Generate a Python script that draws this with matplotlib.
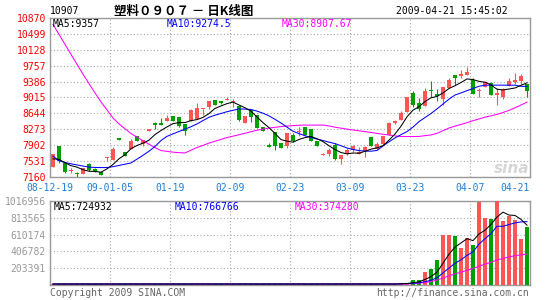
import matplotlib
matplotlib.use("Agg")
import matplotlib.pyplot as plt

# ---------------- data ----------------
x_labels = ["08-12-19", "09-01-05", "01-19", "02-09", "02-23", "03-09", "03-23", "04-07", "04-21"]
price_ticks = [7160, 7531, 7902, 8273, 8644, 9015, 9386, 9757, 10128, 10499, 10870]
vol_ticks = [203391, 406782, 610174, 813565, 1016956]

opens = [7392, 7872, 7485, 7290, 7245, 7240, 7454, 7350, 7265, 7615,
         7547, 8065, 7733, 7819, 8111, 7934, 8227, 8412, 8410, 8458,
         8590, 8567, 8397, 8475, 8513, 8746, 8783, 8960, 8938, 8955,
         8920, 8823, 8412, 8729, 8614, 8336, 7895, 8203, 7950, 7872,
         8134, 8212, 8336, 8289, 8010, 7663, 7686, 7918, 7585, 7703,
         7795, 7703, 7763, 8103, 7819, 7934, 8150, 8428, 8490, 8667,
         9117, 8876, 8823, 9194, 9108, 8978, 9247, 9541, 9526, 9534,
         9418, 9155, 9263, 9364, 9078, 9031, 9287, 9387, 9402, 9325]
closes = [7703, 7531, 7276, 7330, 7225, 7370, 7331, 7280, 7210, 7625,
          7819, 8030, 7640, 8010, 8010, 8034, 8273, 8366, 8380, 8537,
          8475, 8358, 8243, 8729, 8760, 8750, 8922, 8839, 8892, 8962,
          8938, 8490, 8590, 8567, 8296, 8227, 7856, 7872, 7833, 8196,
          7995, 8243, 8150, 8010, 7872, 7703, 7795, 7585, 7663, 7779,
          7872, 7740, 7856, 7895, 7934, 8127, 8412, 8475, 8644, 9031,
          8846, 8737, 9170, 9155, 9047, 9263, 9418, 9479, 9572, 9611,
          9108, 9186, 9372, 9078, 9131, 9210, 9402, 9418, 9518, 9170]
highs = [7703, 7872, 7500, 7380, 7270, 7380, 7480, 7360, 7270, 7625,
         7870, 8065, 7733, 8040, 8111, 8034, 8273, 8452, 8537, 8614,
         8590, 8567, 8397, 8746, 8876, 8750, 8922, 8960, 8938, 9031,
         8978, 8823, 8590, 8729, 8614, 8336, 7965, 8203, 7950, 8196,
         8196, 8336, 8336, 8289, 8010, 7720, 7830, 7950, 7663, 7830,
         7918, 7856, 7888, 8103, 7972, 8127, 8444, 8500, 8690, 9031,
         9170, 9001, 9233, 9402, 9210, 9263, 9465, 9541, 9650, 9727,
         9465, 9247, 9380, 9380, 9247, 9247, 9479, 9580, 9572, 9325]
lows = [7392, 7485, 7253, 7260, 7165, 7235, 7310, 7270, 7200, 7530,
        7547, 8030, 7640, 7819, 8010, 7872, 8227, 8282, 8366, 8458,
        8475, 8320, 8134, 8475, 8513, 8614, 8746, 8839, 8870, 8955,
        8783, 8470, 8412, 8435, 8296, 8227, 7856, 7779, 7833, 7842,
        7972, 8127, 8150, 8010, 7872, 7663, 7660, 7547, 7454, 7680,
        7740, 7703, 7624, 7895, 7819, 7934, 8150, 8400, 8490, 8667,
        8783, 8707, 8823, 9015, 8938, 8846, 9247, 9310, 9479, 9534,
        9108, 9031, 9250, 9070, 8846, 8978, 9287, 9325, 9340, 9015]

ma5 = [7584, 7570, 7492, 7424, 7390, 7330, 7295, 7290, 7272, 7350,
       7452, 7585, 7680, 7822, 7895, 7950, 8020, 8150, 8245, 8330,
       8405, 8430, 8430, 8475, 8500, 8550, 8640, 8760, 8818, 8872,
       8908, 8840, 8775, 8696, 8560, 8428, 8311, 8177, 8032, 7997,
       7972, 8036, 8080, 8108, 8052, 7986, 7889, 7800, 7732, 7700,
       7720, 7715, 7760, 7810, 7840, 7890, 8020, 8164, 8345, 8565,
       8720, 8800, 8920, 9008, 9040, 9120, 9225, 9290, 9365, 9448,
       9433, 9392, 9372, 9308, 9208, 9191, 9213, 9237, 9300, 9357]
ma10 = [7646, 7541, 7499, 7468, 7441, 7415, 7390, 7383, 7380, 7380,
        7401, 7429, 7459, 7489, 7577, 7666, 7762, 7872, 8011, 8108,
        8166, 8222, 8278, 8333, 8398, 8477, 8554, 8602, 8642, 8684,
        8716, 8749, 8744, 8735, 8697, 8649, 8586, 8505, 8419, 8324,
        8227, 8173, 8122, 8081, 8046, 8011, 7974, 7939, 7890, 7837,
        7802, 7777, 7763, 7763, 7779, 7884, 7981, 8071, 8148, 8220,
        8326, 8452, 8547, 8642, 8749, 8862, 8976, 9073, 9122, 9175,
        9226, 9277, 9303, 9303, 9303, 9303, 9303, 9303, 9277, 9274.5]
ma30 = [10722, 10488, 10254, 10022, 9790, 9560, 9340, 9120, 8913, 8725,
        8537, 8398, 8287, 8173, 8090, 8006, 7925, 7846, 7777, 7758,
        7740, 7728, 7721, 7785, 7849, 7897, 7951, 7994, 8037, 8081,
        8113, 8146, 8180, 8217, 8252, 8275, 8301, 8320, 8336, 8350,
        8359, 8368, 8371, 8371, 8371, 8371, 8352, 8322, 8299, 8278,
        8257, 8238, 8220, 8199, 8178, 8157, 8139, 8120, 8104, 8104,
        8104, 8106, 8125, 8141, 8180, 8241, 8303, 8347, 8387, 8428,
        8473, 8514, 8556, 8588, 8621, 8665, 8715, 8775, 8840, 8907.67]

volumes = [12000] * 58 + [28000, 28000, 61000, 61000, 159000, 195000, 305000, 602000,
                          602000, 590000, 447000, 565000, 480000, 1009000, 814000, 797000,
                          1016956, 775000, 830000, 790000, 560000, 700000]
vol_ma5 = [12000] * 58 + [15000, 18000, 28000, 38000, 67000, 101000, 156000, 264000,
                          373000, 459000, 509000, 561000, 537000, 618000, 663000, 733000,
                          823000, 882000, 847000, 842000, 794000, 724932]
vol_ma10 = [12000] * 58 + [14000, 16000, 21000, 26000, 40000, 58000, 87000, 146000,
                           205000, 263000, 305000, 359000, 401000, 495000, 561000, 621000,
                           712000, 710000, 732000, 752000, 764000, 766766]
vol_ma30 = [12000] * 58 + [13000, 14000, 17000, 21000, 30000, 42000, 60000, 85000,
                           110000, 135000, 155000, 178000, 198000, 228000, 252000, 275000,
                           302000, 322000, 340000, 355000, 365000, 374280]

# ---------------- style ----------------
W, H = 545, 300
RED = "#FF5555"
GREEN = "#00A000"
GRID = "#A8A8A8"
FRAME = "#999999"
MONO = "DejaVu Sans Mono"
LW = 0.75
plt.rcParams["font.family"] = [MONO, "DejaVu Sans"]

fig = plt.figure(figsize=(W / 100, H / 100), dpi=100)
fig.patch.set_facecolor("white")


def px_axes(x0, y0, x1, y1):
    return fig.add_axes([x0 / W, 1 - y1 / H, (x1 - x0) / W, (y1 - y0) / H])


def ftext(x, y, s, **kw):
    fig.text(x / W, 1 - y / H, s, **kw)


n = len(closes)
idx = list(range(n))
colors = [RED if c >= o else GREEN for o, c in zip(opens, closes)]

# ---------------- main price panel ----------------
ax = px_axes(50, 18, 530, 177)
ax.set_xlim(-0.5, n - 0.5)
ax.set_ylim(price_ticks[0], price_ticks[-1])
ax.vlines(idx, lows, highs, colors=colors, linewidth=0.8, zorder=2)
bottoms = [min(o, c) for o, c in zip(opens, closes)]
heights = [max(abs(c - o), 22) for o, c in zip(opens, closes)]
ax.bar(idx, heights, bottom=bottoms, width=0.78, color=colors, linewidth=0, zorder=3)
ax.plot(idx, ma30, color="#FF00FF", linewidth=LW, zorder=4)
ax.plot(idx, ma10, color="#0000FF", linewidth=LW, zorder=4)
ax.plot(idx, ma5, color="black", linewidth=LW, zorder=5)

grid_x = [-0.5 + 10 * k for k in range(len(x_labels))]
ax.set_yticks(price_ticks)
ax.set_yticklabels([str(t) for t in price_ticks])
ax.set_xticks(grid_x)
ax.set_xticklabels(x_labels)
ax.tick_params(axis="y", length=0, pad=3, labelsize=7, labelcolor="#FF0000")
ax.tick_params(axis="x", length=0, pad=4, labelsize=7, labelcolor="#1E7ED6")
ax.get_xticklabels()[-1].set_ha("right")
ax.grid(True, color=GRID, linestyle=(0, (1, 2)), linewidth=0.8)
ax.set_axisbelow(True)
for sp in ax.spines.values():
    sp.set_color(FRAME)
    sp.set_linewidth(1)

# watermark
ftext(512, 168, "sina", color="#D6D6D6", fontsize=11, fontstyle="italic",
      fontweight="bold", family="DejaVu Sans", ha="center", va="center")

# ---------------- volume panel ----------------
axv = px_axes(50, 201, 530, 285)
axv.set_xlim(-0.5, n - 0.5)
axv.set_ylim(0, vol_ticks[-1])
axv.bar(idx, volumes, width=0.82, color=colors, linewidth=0, zorder=3)
axv.plot(idx, vol_ma30, color="#FF00FF", linewidth=LW, zorder=4)
axv.plot(idx, vol_ma10, color="#0000FF", linewidth=LW, zorder=4)
axv.plot(idx, vol_ma5, color="black", linewidth=LW, zorder=5)
axv.set_yticks(vol_ticks)
axv.set_yticklabels([str(t) for t in vol_ticks])
axv.set_xticks(grid_x)
axv.set_xticklabels([])
axv.tick_params(axis="y", length=0, pad=3, labelsize=7, labelcolor="#999999")
axv.tick_params(axis="x", length=0)
axv.grid(True, color=GRID, linestyle=(0, (1, 2)), linewidth=0.8)
axv.set_axisbelow(True)
for sp in axv.spines.values():
    sp.set_color(FRAME)
    sp.set_linewidth(1)

# ---------------- texts ----------------
ftext(50, 11, "10907", color="black", fontsize=7, va="center")
ftext(184, 11, "塑料０９０７ － 日K线图", color="black", fontsize=9, fontweight="bold",
      family=["Noto Sans CJK SC", "DejaVu Sans"], ha="center", va="center")
ftext(508, 11, "2009-04-21 15:45:02", color="black", fontsize=7, ha="right", va="center")

ftext(53, 24, "MA5:9357", color="black", fontsize=7, va="center")
ftext(167, 24, "MA10:9274.5", color="#0000FF", fontsize=7, va="center")
ftext(282, 24, "MA30:8907.67", color="#FF00FF", fontsize=7, va="center")

ftext(54, 207, "MA5:724932", color="black", fontsize=7, va="center")
ftext(175, 207, "MA10:766766", color="#0000FF", fontsize=7, va="center")
ftext(295, 207, "MA30:374280", color="#FF00FF", fontsize=7, va="center")

ftext(50, 293, "Copyright 2009 SINA.COM", color="#666666", fontsize=7, va="center")
ftext(529, 293, "http://finance.sina.com.cn", color="#666666", fontsize=7, ha="right", va="center")

fig.savefig("out.png", dpi=100)
